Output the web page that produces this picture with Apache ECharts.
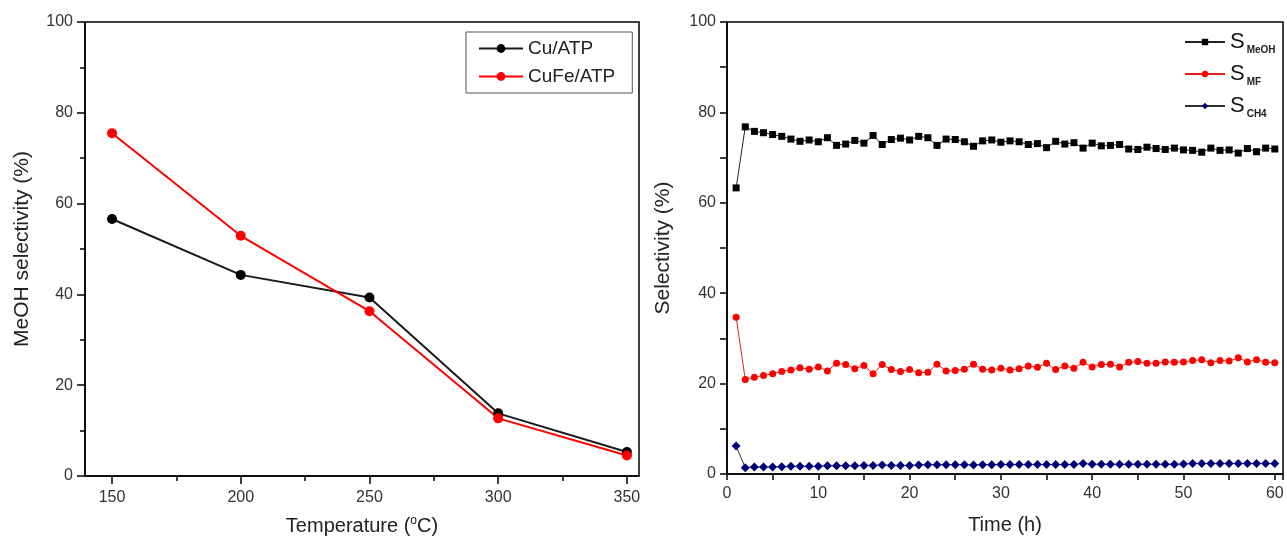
<!DOCTYPE html>
<html>
<head>
<meta charset="utf-8">
<script src="https://cdn.jsdelivr.net/npm/echarts@6/dist/echarts.min.js"></script>
<style>
  html, body { margin: 0; padding: 0; background: #fff; }
  #main { width: 1287px; height: 542px; }
</style>
</head>
<body>
<div id="main"></div>
<script>
// left panel: selectivity vs temperature
var temperatures = [150, 200, 250, 300, 350];
var cuAtp = [56.6, 44.3, 39.3, 13.8, 5.3];
var cuFeAtp = [75.5, 52.9, 36.3, 12.7, 4.5];
var tempLabels = [150, 200, 250, 300, 350];
var tempMinorTicks = [175, 225, 275, 325];

// right panel: selectivity vs time on stream
var timeH = [1, 2, 3, 4, 5, 6, 7, 8, 9, 10, 11, 12, 13, 14, 15, 16, 17, 18, 19, 20,
    21, 22, 23, 24, 25, 26, 27, 28, 29, 30, 31, 32, 33, 34, 35, 36, 37, 38, 39, 40,
    41, 42, 43, 44, 45, 46, 47, 48, 49, 50, 51, 52, 53, 54, 55, 56, 57, 58, 59, 60];
var sMeOH = [63.3, 76.8, 75.8, 75.5, 75.1, 74.7, 74.1, 73.6, 73.9, 73.5,
    74.4, 72.7, 73.0, 73.8, 73.2, 74.9, 72.9, 74.0, 74.3, 73.9,
    74.7, 74.4, 72.7, 74.1, 74.0, 73.5, 72.5, 73.7, 73.9, 73.4,
    73.7, 73.5, 72.9, 73.1, 72.2, 73.6, 73.0, 73.3, 72.1, 73.2,
    72.6, 72.7, 72.9, 71.9, 71.8, 72.3, 72.0, 71.8, 72.1, 71.7,
    71.6, 71.2, 72.1, 71.6, 71.7, 71.0, 72.0, 71.3, 72.1, 71.9];
var sMF = [34.7, 20.9, 21.4, 21.8, 22.2, 22.7, 23.0, 23.5, 23.2, 23.7,
    22.8, 24.5, 24.2, 23.3, 24.0, 22.2, 24.2, 23.1, 22.7, 23.1,
    22.4, 22.5, 24.3, 22.8, 22.9, 23.2, 24.3, 23.2, 23.0, 23.4,
    23.0, 23.3, 23.9, 23.6, 24.5, 23.1, 23.9, 23.4, 24.7, 23.7,
    24.2, 24.3, 23.7, 24.7, 24.9, 24.5, 24.5, 24.8, 24.7, 24.8,
    25.1, 25.3, 24.6, 25.1, 25.0, 25.7, 24.8, 25.3, 24.7, 24.6];
var sCH4 = [6.2, 1.4, 1.55, 1.55, 1.55, 1.6, 1.7, 1.7, 1.7, 1.7,
    1.85, 1.85, 1.8, 1.85, 1.9, 1.9, 2.0, 1.9, 1.9, 1.9,
    2.0, 2.05, 2.05, 2.05, 2.05, 2.05, 2.0, 2.05, 2.05, 2.1,
    2.1, 2.1, 2.1, 2.1, 2.1, 2.1, 2.1, 2.1, 2.35, 2.15,
    2.15, 2.15, 2.15, 2.15, 2.15, 2.15, 2.15, 2.15, 2.15, 2.2,
    2.3, 2.3, 2.3, 2.3, 2.3, 2.3, 2.3, 2.3, 2.3, 2.3];

function pairs(xs, ys) {
    var out = [];
    for (var i = 0; i < xs.length; i++) out.push([xs[i], ys[i]]);
    return out;
}

var font = 'Liberation Sans, Arial, sans-serif';
var labelColor = '#333';
var axisBlack = { lineStyle: { color: '#000', width: 1.5 } };

var chart = echarts.init(document.getElementById('main'));

var option = {
    animation: false,
    textStyle: { fontFamily: font },
    grid: [
        { left: 85, top: 22, right: 648, bottom: 66, show: true, borderColor: '#000', borderWidth: 1.5, containLabel: false },
        { left: 727, top: 22, right: 4, bottom: 68, show: true, borderColor: '#000', borderWidth: 1.5, containLabel: false }
    ],
    legend: [
        {
            data: ['Cu/ATP', 'CuFe/ATP'],
            orient: 'vertical',
            left: 466, top: 32,
            padding: [7, 17, 7, 12],
            itemGap: 9,
            itemWidth: 44, itemHeight: 11,
            borderColor: '#555', borderWidth: 1,
            textStyle: { fontSize: 19, color: '#222', fontFamily: font }
        },
        {
            data: ['SMeOH', 'SMF', 'SCH4'],
            orient: 'vertical',
            left: 1179, top: 24,
            itemGap: 6,
            itemWidth: 40, itemHeight: 8,
            formatter: function (name) {
                return '{s|S}{sub|' + name.slice(1) + '}';
            },
            textStyle: {
                fontFamily: font, color: '#111',
                rich: {
                    s: { fontSize: 22, lineHeight: 26, fontFamily: font, color: '#111' },
                    sub: { fontSize: 10, fontWeight: 'bold', fontFamily: font, color: '#222', lineHeight: 10, padding: [16, 0, 0, 2] }
                }
            }
        }
    ],
    xAxis: [
        {
            type: 'value', gridIndex: 0, min: 139.5, max: 354.7, position: 'bottom',
            splitLine: { show: false },
            axisLine: axisBlack,
            axisTick: { show: true, length: 8, inside: false, lineStyle: { color: '#000', width: 1.5 }, customValues: tempLabels },
            axisLabel: { customValues: tempLabels, fontSize: 16, color: labelColor, margin: 14 },
            name: 'Temperature ({sup|o}C)',
            nameLocation: 'middle', nameGap: 39,
            nameTextStyle: {
                fontSize: 20, color: '#222', fontFamily: font,
                rich: { sup: { fontSize: 12, verticalAlign: 'top', padding: [0, 0, 10, 0], fontFamily: font, color: '#222' } }
            }
        },
        {
            type: 'value', gridIndex: 0, min: 139.5, max: 354.7, position: 'bottom',
            splitLine: { show: false },
            axisLine: { show: false },
            axisTick: { show: true, length: 5, lineStyle: { color: '#000', width: 1.5 }, customValues: tempMinorTicks },
            axisLabel: { show: false }
        },
        {
            type: 'value', gridIndex: 1, min: 0, max: 60.9, interval: 10,
            splitLine: { show: false },
            axisLine: axisBlack,
            axisTick: { length: 6, lineStyle: { color: '#000', width: 1.5 } },
            minorTick: { show: true, splitNumber: 2, length: 6, lineStyle: { color: '#000', width: 1.5 } },
            axisLabel: { fontSize: 16, color: labelColor, margin: 12 },
            name: 'Time (h)',
            nameLocation: 'middle', nameGap: 41,
            nameTextStyle: { fontSize: 20, color: '#222', fontFamily: font }
        }
    ],
    yAxis: [
        {
            type: 'value', gridIndex: 0, min: 0, max: 100, interval: 20,
            splitLine: { show: false },
            axisLine: axisBlack,
            axisTick: { length: 8, lineStyle: { color: '#000', width: 1.5 } },
            minorTick: { show: true, splitNumber: 2, length: 5, lineStyle: { color: '#000', width: 1.5 } },
            axisLabel: { fontSize: 16, color: labelColor, margin: 12 },
            name: 'MeOH selectivity (%)',
            nameLocation: 'middle', nameGap: 52,
            nameTextStyle: { fontSize: 21, color: '#222', fontFamily: font }
        },
        {
            type: 'value', gridIndex: 1, min: 0, max: 100, interval: 20,
            splitLine: { show: false },
            axisLine: axisBlack,
            axisTick: { length: 7, lineStyle: { color: '#000', width: 1.5 } },
            minorTick: { show: true, splitNumber: 2, length: 7, lineStyle: { color: '#000', width: 1.5 } },
            axisLabel: { fontSize: 16, color: labelColor, margin: 11 },
            name: 'Selectivity (%)',
            nameLocation: 'middle', nameGap: 53,
            nameTextStyle: { fontSize: 21, color: '#222', fontFamily: font }
        }
    ],
    series: [
        {
            name: 'Cu/ATP', type: 'line', xAxisIndex: 0, yAxisIndex: 0,
            data: pairs(temperatures, cuAtp),
            symbol: 'circle', symbolSize: 10,
            lineStyle: { color: '#1a1a1a', width: 2 },
            itemStyle: { color: '#000' }
        },
        {
            name: 'CuFe/ATP', type: 'line', xAxisIndex: 0, yAxisIndex: 0,
            data: pairs(temperatures, cuFeAtp),
            symbol: 'circle', symbolSize: 10,
            lineStyle: { color: '#ff0000', width: 2 },
            itemStyle: { color: '#ff0000' }
        },
        {
            name: 'SMeOH', type: 'line', xAxisIndex: 2, yAxisIndex: 1,
            data: pairs(timeH, sMeOH),
            symbol: 'rect', symbolSize: 7,
            lineStyle: { color: '#222', width: 1 },
            itemStyle: { color: '#000' }
        },
        {
            name: 'SMF', type: 'line', xAxisIndex: 2, yAxisIndex: 1,
            data: pairs(timeH, sMF),
            symbol: 'circle', symbolSize: 7,
            lineStyle: { color: '#e02020', width: 1 },
            itemStyle: { color: '#ff0000' }
        },
        {
            name: 'SCH4', type: 'line', xAxisIndex: 2, yAxisIndex: 1,
            data: pairs(timeH, sCH4),
            symbol: 'diamond', symbolSize: 9,
            lineStyle: { color: '#333', width: 1 },
            itemStyle: { color: '#00007a' }
        }
    ]
};

chart.setOption(option);
</script>
</body>
</html>
